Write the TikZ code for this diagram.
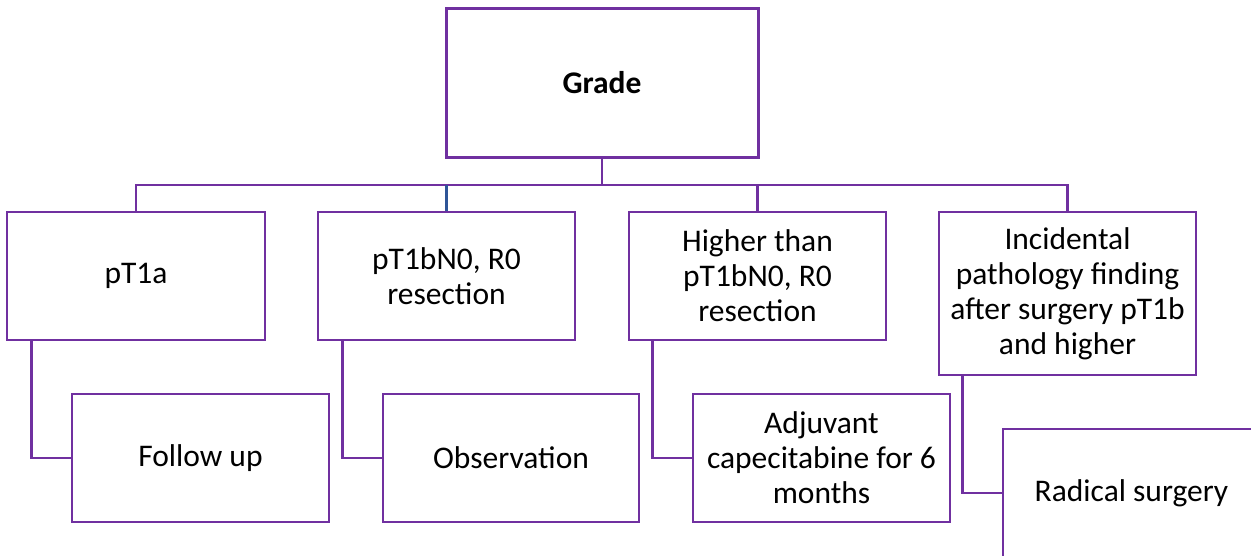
\documentclass[tikz,border=0pt]{standalone}
\usepackage{fontspec}
\setmainfont{Carlito}
\definecolor{vio}{HTML}{7030A0}
\definecolor{bluel}{HTML}{2F5597}
\tikzset{
  box/.style={draw=vio, line width=2.6pt, fill=white, align=center, inner sep=0pt,
    font=\fontsize{31.5}{35}\selectfont, text=black},
  conn/.style={draw=vio, line width=2.6pt},
  bconn/.style={draw=bluel, line width=2.2pt}
}
\begin{document}
\begin{tikzpicture}[x=1pt,y=-1pt]
\clip (0,0) rectangle (1251,555);
\fill[white] (0,0) rectangle (1251,555);
\coordinate (bus) at (602,185);
\node[box, line width=3pt, minimum width=312pt, minimum height=149pt] (grade) at (602,82.5) {\bfseries Grade};
\node[box, minimum width=258pt, minimum height=128pt] (b1) at (136,276) {pT1a};
\node[box, minimum width=257pt, minimum height=128pt] (b2) at (446.5,276) {pT1bN0, R0\\resection};
\node[box, minimum width=257pt, minimum height=128pt] (b3) at (757.5,276) {Higher than\\pT1bN0, R0\\resection};
\node[box, minimum width=257pt, minimum height=163pt] (b4) at (1067.5,293.5) {Incidental\\pathology finding\\after surgery pT1b\\and higher};
\draw[conn] (grade.south) -- (bus);
\draw[conn] (b1.north) |- (bus) -| (b4.north);
\draw[conn] (b3.north) -- (b3.north |- bus);
\draw[bconn] (b2.north) -- (b2.north |- bus);
\node[box, minimum width=257pt, minimum height=128pt] (c1) at (200.5,458) {Follow up};
\node[box, minimum width=256pt, minimum height=128pt] (c2) at (511,458) {Observation};
\node[box, minimum width=257pt, minimum height=128pt] (c3) at (821.5,458) {Adjuvant\\capecitabine for 6\\months};
\node[box, minimum width=257pt, minimum height=128pt] (c4) at (1131.5,493) {Radical surgery};
\draw[conn] ([xshift=26pt]b1.south west) |- (c1.west);
\draw[conn] ([xshift=26pt]b2.south west) |- (c2.west);
\draw[conn] ([xshift=25pt]b3.south west) |- (c3.west);
\draw[conn] ([xshift=25pt]b4.south west) |- (c4.west);
\end{tikzpicture}
\end{document}
